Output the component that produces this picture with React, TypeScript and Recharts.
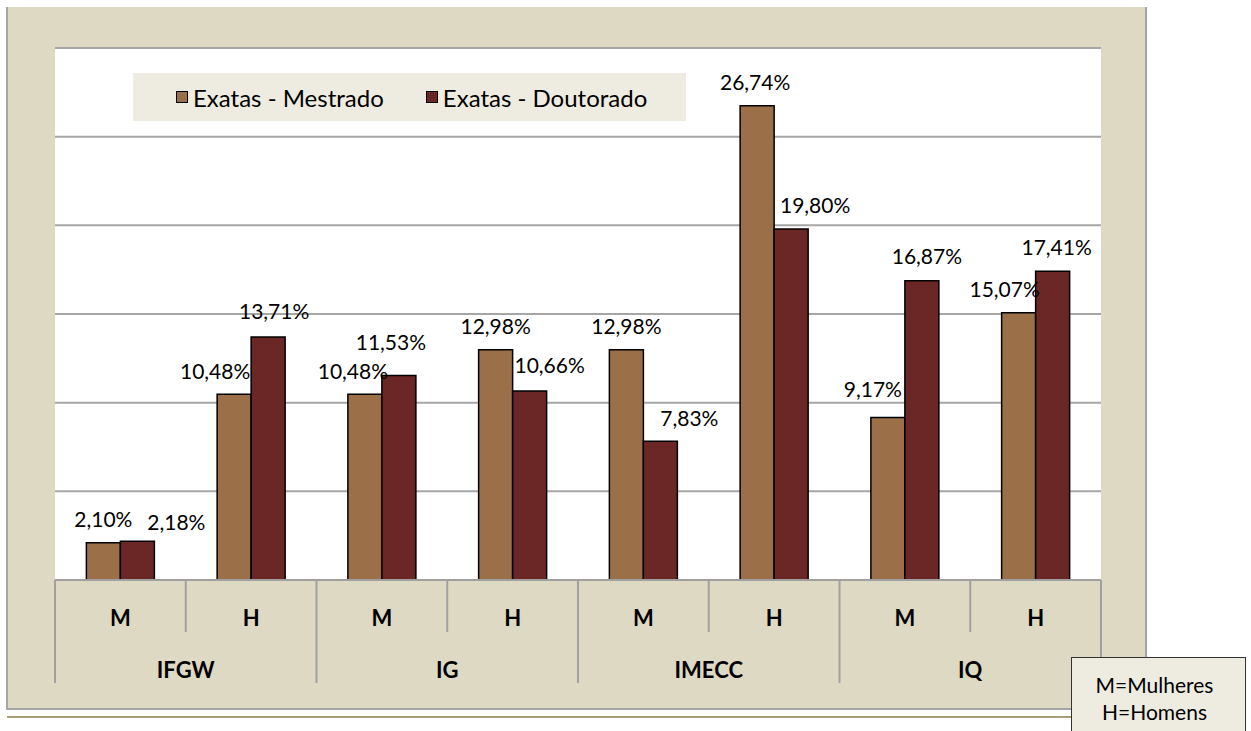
import React from 'react';
import { BarChart, Bar, XAxis, YAxis, CartesianGrid, Legend, LabelList } from 'recharts';

const sexes = ['M', 'H', 'M', 'H', 'M', 'H', 'M', 'H'];
const institutes = ['IFGW', 'IFGW', 'IG', 'IG', 'IMECC', 'IMECC', 'IQ', 'IQ'];
const mestrado = [2.1, 10.48, 10.48, 12.98, 12.98, 26.74, 9.17, 15.07];
const doutorado = [2.18, 13.71, 11.53, 10.66, 7.83, 19.8, 16.87, 17.41];
const yTicks = [0, 5, 10, 15, 20, 25, 30];
const seriesOrder = ['mestrado', 'doutorado'];

// manual nudges of data labels (like hand-moved labels in the original)
const mestradoLabelNudge = [[0, 0], [-19, 0], [-12, 0], [0, 0], [0, 0], [-2, 0], [-15, -5], [-14, 0]];
const doutoradoLabelNudge = [[39, 4], [6, -2], [-8, -10], [20, -2], [29, 0], [24, 0], [5, -1], [4, -1]];

const data = sexes.map((s, i) => ({
  key: `${institutes[i]}-${s}-${i}`,
  sex: s,
  inst: institutes[i],
  mestrado: mestrado[i],
  doutorado: doutorado[i],
}));

const FONT = 'Lato, "Open Sans", sans-serif';
const fmt = (v: number) => v.toFixed(2).replace('.', ',') + '%';

const makeLabel = (nudges: number[][]) => (props: any) => {
  const { x, y, width, value, index } = props;
  const n = nudges[index] || [0, 0];
  return (
    <text
      x={Number(x) + Number(width) / 2 + n[0]}
      y={Number(y) - 24 + n[1]}
      textAnchor="middle"
      dominantBaseline="central"
      fontFamily={FONT}
      fontSize={21}
      fill="#000"
    >
      {fmt(Number(value))}
    </text>
  );
};

const AxisTick = (props: any) => {
  const { x, y, payload, index } = props;
  const off = payload && typeof payload.offset === 'number' && payload.offset > 0 ? payload.offset : 65.375;
  const i = typeof index === 'number' ? index : payload.index;
  const last = i === data.length - 1;
  const lineColor = '#A0A0A0';
  return (
    <g>
      <line x1={x - off} x2={x - off} y1={y} y2={y + (i % 2 === 0 ? 103 : 52)} stroke={lineColor} strokeWidth={2} />
      {last && <line x1={x + off} x2={x + off} y1={y} y2={y + 103} stroke={lineColor} strokeWidth={2} />}
      <text x={x} y={y + 37} textAnchor="middle" dominantBaseline="central" fontFamily={FONT} fontWeight={700} fontSize={22} fill="#000">
        {sexes[i]}
      </text>
      {i % 2 === 1 && (
        <text x={x - off} y={y + 89} textAnchor="middle" dominantBaseline="central" fontFamily={FONT} fontWeight={700} fontSize={22} fill="#000">
          {institutes[i]}
        </text>
      )}
    </g>
  );
};

const LegendBox = (props: any) => {
  const payload = [...(props.payload || [])].sort(
    (a: any, b: any) => seriesOrder.indexOf(String(a.dataKey)) - seriesOrder.indexOf(String(b.dataKey))
  );
  return (
    <div
      style={{
        width: 553,
        height: 48,
        background: '#EEECE1',
        display: 'flex',
        alignItems: 'center',
        paddingLeft: 43,
        boxSizing: 'border-box',
        fontFamily: FONT,
        fontSize: 24,
        color: '#000',
      }}
    >
      {payload.map((p: any, k: number) => (
        <div key={k} style={{ display: 'flex', alignItems: 'center', marginRight: 42 }}>
          <span
            style={{
              display: 'inline-block',
              width: 12,
              height: 12,
              background: p.color,
              border: '1.5px solid #000',
              boxSizing: 'border-box',
              marginRight: 5,
            }}
          />
          <span style={{ whiteSpace: 'nowrap' }}>{p.value}</span>
        </div>
      ))}
    </div>
  );
};

export default function App() {
  return (
    <div style={{ position: 'absolute', left: 0, top: 0, width: 1251, height: 731, overflow: 'hidden', background: '#fff' }}>
      {/* outer frame */}
      <div
        style={{
          position: 'absolute',
          left: 6,
          top: 7,
          width: 1141,
          height: 703,
          background: '#DDD9C3',
          borderLeft: '2px solid #A6A6A6',
          borderRight: '2px solid #A6A6A6',
          borderBottom: '2px solid #A6A6A6',
          boxSizing: 'border-box',
        }}
      />
      <div style={{ position: 'absolute', left: 7, top: 716, width: 1100, height: 2, background: '#A59D74' }} />
      <div style={{ position: 'absolute', left: 0, top: 0 }}>
        <BarChart
          width={1251}
          height={731}
          data={data}
          margin={{ top: 48, right: 150, bottom: 46, left: 55 }}
          barCategoryGap="24%"
          barGap={0}
        >
          <CartesianGrid vertical={false} stroke="#A6A6A6" strokeWidth={2} fill="#FFFFFF" />
          <YAxis hide domain={[0, 30]} ticks={yTicks} type="number" />
          <XAxis
            dataKey="key"
            interval={0}
            height={105}
            tickLine={false}
            tickSize={0}
            tickMargin={0}
            axisLine={{ stroke: '#A0A0A0', strokeWidth: 2 }}
            tick={<AxisTick />}
          />
          <Legend
            layout="horizontal"
            verticalAlign="middle"
            align="center"
            wrapperStyle={{ position: 'absolute', left: 133, top: 73, width: 553, height: 48 }}
            content={<LegendBox />}
          />
          <Bar dataKey="mestrado" name="Exatas - Mestrado" fill="#9B6F48" stroke="#000" strokeWidth={1.5} isAnimationActive={false}>
            <LabelList dataKey="mestrado" content={makeLabel(mestradoLabelNudge)} />
          </Bar>
          <Bar dataKey="doutorado" name="Exatas - Doutorado" fill="#6A2726" stroke="#000" strokeWidth={1.5} isAnimationActive={false}>
            <LabelList dataKey="doutorado" content={makeLabel(doutoradoLabelNudge)} />
          </Bar>
        </BarChart>
      </div>
      {/* note box */}
      <div
        style={{
          position: 'absolute',
          left: 1071,
          top: 657,
          width: 175,
          height: 90,
          background: '#EEECE1',
          border: '1.5px solid #333',
          boxSizing: 'border-box',
          fontFamily: FONT,
          fontSize: 21,
          color: '#000',
          textAlign: 'center',
          lineHeight: '27px',
          paddingTop: 13,
        }}
      >
        <div style={{ paddingRight: 8 }}>M=Mulheres</div>
        <div style={{ paddingRight: 8 }}>H=Homens</div>
      </div>
    </div>
  );
}
